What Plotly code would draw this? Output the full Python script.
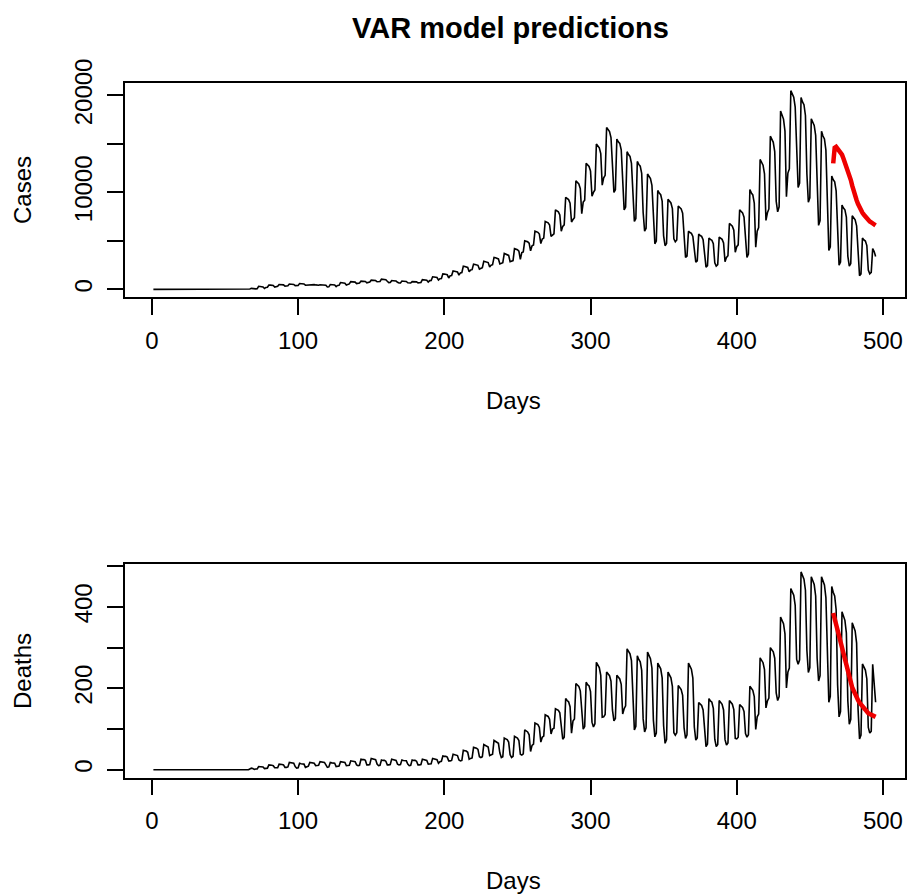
import plotly.graph_objects as go

# Daily reported cases, day 1 .. 495 (one row per week)
cases = [
    0, 0, 0, 0, 0, 0, 0,
    0, 0, 0, 0, 0, 0, 0,
    0, 0, 0, 0, 0, 0, 0,
    0, 0, 0, 0, 0, 0, 0,
    0, 0, 0, 0, 0, 0, 0,
    0, 0, 0, 0, 0, 0, 0,
    0, 0, 0, 0, 0, 0, 0,
    0, 0, 0, 0, 0, 0, 0,
    0, 0, 0, 0, 0, 0, 0,
    0, 0, 0, 40, 100, 60, 20,
    50, 62, 300, 290, 280, 250, 90,
    200, 212, 450, 440, 430, 400, 240,
    300, 310, 500, 490, 485, 460, 330,
    350, 360, 550, 540, 535, 510, 380,
    400, 410, 600, 590, 585, 560, 430,
    450, 452, 500, 498, 496, 490, 458,
    420, 423, 480, 477, 475, 468, 429,
    250, 262, 500, 488, 480, 450, 288,
    400, 415, 700, 685, 676, 640, 445,
    550, 562, 800, 788, 780, 750, 588,
    650, 660, 850, 840, 834, 810, 680,
    750, 760, 950, 940, 934, 910, 780,
    800, 812, 1050, 1038, 1030, 1000, 838,
    700, 710, 900, 890, 884, 860, 730,
    650, 660, 850, 840, 834, 810, 680,
    650, 657, 800, 792, 788, 770, 672,
    700, 715, 1000, 985, 976, 940, 745,
    900, 920, 1300, 1280, 1268, 1220, 960,
    1100, 1125, 1600, 1575, 1560, 1500, 1175,
    1400, 1425, 1900, 1875, 1860, 1800, 1475,
    1700, 1735, 2400, 2365, 2344, 2260, 1805,
    2000, 2030, 2600, 2570, 2552, 2480, 2090,
    2200, 2235, 2900, 2865, 2844, 2760, 2305,
    2500, 2540, 3300, 3260, 3236, 3140, 2620,
    2700, 2750, 3700, 3650, 3620, 3500, 2850,
    2900, 2965, 4200, 4135, 4096, 3940, 3095,
    3800, 3860, 5000, 4940, 4904, 4760, 3980,
    4500, 4575, 6000, 5925, 5880, 5700, 4725,
    5200, 5290, 7000, 6910, 6856, 6640, 5470,
    5600, 5730, 8200, 8070, 7992, 7680, 5990,
    6500, 6650, 9500, 9350, 9260, 8900, 6950,
    7200, 7400, 11200, 11000, 10880, 10400, 7800,
    9000, 9200, 13000, 12800, 12680, 12200, 9600,
    10000, 10250, 15000, 14750, 14600, 14000, 10750,
    11500, 11760, 16700, 16440, 16280, 15660, 12280,
    10000, 10275, 15500, 15225, 15060, 14400, 10825,
    8200, 8500, 14200, 13900, 13720, 13000, 9100,
    7000, 7310, 13200, 12890, 12704, 11960, 7930,
    6000, 6295, 11900, 11605, 11428, 10720, 6885,
    4700, 4975, 10200, 9925, 9760, 9100, 5525,
    4500, 4740, 9300, 9060, 8916, 8340, 5220,
    4900, 5085, 8600, 8415, 8304, 7860, 5455,
    3300, 3435, 6000, 5865, 5784, 5460, 3705,
    2800, 2945, 5700, 5555, 5468, 5120, 3235,
    2300, 2450, 5300, 5150, 5060, 4700, 2750,
    2400, 2550, 5400, 5250, 5160, 4800, 2850,
    3300, 3475, 6800, 6625, 6520, 6100, 3825,
    4400, 4590, 8200, 8010, 7896, 7440, 4970,
    3300, 3650, 10300, 9950, 9740, 8900, 4350,
    6000, 6370, 13400, 13030, 12808, 11920, 7110,
    7900, 8295, 15800, 15405, 15168, 14220, 9085,
    8000, 8520, 18400, 17880, 17568, 16320, 9560,
    12000, 12425, 20500, 20075, 19820, 18800, 13275,
    10500, 10965, 19800, 19335, 19056, 17940, 11895,
    9000, 9430, 17600, 17170, 16912, 15880, 10290,
    6600, 7085, 16300, 15815, 15524, 14360, 8055,
    4000, 4385, 11700, 11315, 11084, 10160, 5155,
    2500, 2810, 8700, 8390, 8204, 7460, 3430,
    2400, 2660, 7600, 7340, 7184, 6560, 3180,
    1400, 1595, 5300, 5105, 4988, 4520, 1985,
    1600, 1750, 4200, 3900, 3400,
]

# Daily reported deaths, day 1 .. 495
deaths = [
    0, 0, 0, 0, 0, 0, 0,
    0, 0, 0, 0, 0, 0, 0,
    0, 0, 0, 0, 0, 0, 0,
    0, 0, 0, 0, 0, 0, 0,
    0, 0, 0, 0, 0, 0, 0,
    0, 0, 0, 0, 0, 0, 0,
    0, 0, 0, 0, 0, 0, 0,
    0, 0, 0, 0, 0, 0, 0,
    0, 0, 0, 0, 0, 0, 0,
    0, 0, 0, 2, 4, 3, 1,
    2, 2, 8, 8, 7, 7, 3,
    4, 4, 12, 12, 11, 10, 5,
    5, 5, 14, 14, 13, 12, 6,
    6, 7, 18, 17, 17, 16, 8,
    4, 5, 16, 15, 15, 14, 6,
    8, 9, 18, 17, 17, 16, 10,
    10, 11, 20, 19, 19, 18, 12,
    6, 7, 18, 17, 17, 16, 8,
    8, 9, 20, 19, 19, 18, 10,
    10, 11, 22, 21, 21, 20, 12,
    10, 11, 26, 25, 25, 23, 12,
    12, 13, 28, 27, 27, 25, 14,
    10, 11, 24, 23, 23, 21, 12,
    12, 13, 26, 25, 25, 23, 14,
    12, 13, 24, 23, 23, 22, 14,
    10, 11, 24, 23, 23, 21, 12,
    12, 13, 26, 25, 25, 23, 14,
    14, 15, 28, 27, 27, 25, 16,
    20, 21, 34, 33, 33, 31, 22,
    22, 23, 38, 37, 37, 35, 24,
    22, 23, 48, 47, 46, 43, 26,
    28, 29, 55, 54, 53, 50, 32,
    30, 32, 62, 60, 59, 56, 35,
    36, 38, 72, 70, 69, 65, 41,
    30, 32, 78, 76, 74, 68, 37,
    30, 33, 82, 79, 78, 72, 38,
    36, 39, 98, 95, 93, 86, 45,
    60, 63, 115, 112, 111, 104, 68,
    80, 83, 135, 132, 131, 124, 88,
    100, 102, 150, 148, 146, 140, 108,
    75, 80, 175, 170, 167, 155, 90,
    120, 125, 212, 207, 205, 194, 134,
    100, 106, 215, 209, 206, 192, 117,
    105, 113, 264, 256, 251, 232, 129,
    130, 136, 240, 235, 231, 218, 147,
    120, 126, 232, 226, 223, 210, 137,
    150, 157, 297, 290, 285, 268, 172,
    98, 107, 280, 271, 265, 244, 125,
    93, 103, 289, 279, 273, 250, 122,
    81, 90, 262, 253, 248, 226, 108,
    65, 74, 240, 231, 226, 205, 91,
    85, 91, 207, 201, 197, 183, 103,
    77, 86, 262, 253, 247, 225, 105,
    73, 78, 165, 160, 158, 147, 87,
    57, 63, 175, 169, 166, 151, 75,
    57, 62, 170, 164, 161, 147, 74,
    61, 66, 170, 165, 161, 148, 77,
    76, 80, 160, 156, 153, 143, 89,
    80, 86, 205, 199, 195, 180, 99,
    130, 137, 275, 268, 263, 246, 152,
    169, 176, 300, 293, 290, 274, 189,
    170, 180, 375, 365, 359, 334, 201,
    240, 250, 445, 435, 429, 404, 271,
    259, 270, 486, 475, 468, 441, 293,
    239, 251, 474, 462, 455, 427, 274,
    218, 231, 474, 461, 454, 423, 256,
    166, 180, 450, 436, 427, 393, 209,
    130, 143, 388, 375, 367, 336, 169,
    112, 124, 361, 349, 341, 311, 149,
    76, 85, 260, 251, 245, 223, 104,
    90, 95, 259, 220, 166,
]

# VAR forecasts for the last 30 days (days 466 .. 495)
pred_start = 466
pred_cases = [
    13000, 14600, 14700, 14500, 14300, 14100, 13900, 13500, 13100, 12700,
    12300, 11900, 11300, 10700, 10100, 9600, 9200, 8800, 8400, 8100,
    7900, 7700, 7500, 7300, 7100, 7000, 6900, 6800, 6700, 6600,
]
pred_deaths = [
    385, 370, 354, 339, 324, 311, 298, 285, 272, 259,
    244, 230, 216, 202, 193, 185, 177, 171, 165, 160,
    155, 150, 145, 142, 139, 137, 135, 133, 131, 130,
]

x_ticks = [0, 100, 200, 300, 400, 500]
x_ticktext = ["0", "100", "200", "300", "400", "500"]
cases_ticks = [0, 5000, 10000, 15000, 20000]
cases_ticktext = ["0", "", "10000", "", "20000"]
deaths_ticks = [0, 100, 200, 300, 400, 500]
deaths_ticktext = ["0", "", "200", "", "400", ""]

days = list(range(1, len(cases) + 1))
pred_days = list(range(pred_start, pred_start + len(pred_cases)))

W, H = 907, 895
FONT = "Liberation Sans, Arial, Helvetica, sans-serif"


def padded(lo, hi):
    # base-R style 4% axis extension
    span = hi - lo
    return [lo - 0.04 * span, hi + 0.04 * span]


x_range = padded(min(days), max(days))
cases_range = padded(0, max(cases))
deaths_range = padded(0, max(deaths))

fig = go.Figure()
fig.add_trace(go.Scatter(x=days, y=cases, mode="lines",
                         line=dict(color="black", width=1.6),
                         xaxis="x", yaxis="y", showlegend=False))
fig.add_trace(go.Scatter(x=pred_days, y=pred_cases, mode="lines",
                         line=dict(color="#ee0000", width=4.5),
                         xaxis="x", yaxis="y", showlegend=False))
fig.add_trace(go.Scatter(x=days, y=deaths, mode="lines",
                         line=dict(color="black", width=1.6),
                         xaxis="x2", yaxis="y2", showlegend=False))
fig.add_trace(go.Scatter(x=pred_days, y=pred_deaths, mode="lines",
                         line=dict(color="#ee0000", width=4.5),
                         xaxis="x2", yaxis="y2", showlegend=False))

x_dom = [124.5 / W, 904.5 / W]
top_dom = [1 - 297.3 / H, 1 - 82.7 / H]
bot_dom = [1 - 777.7 / H, 1 - 564.0 / H]

axis_common = dict(
    showline=True, mirror=True, linecolor="black", linewidth=1.5,
    ticks="outside", ticklen=16, tickwidth=1.5, tickcolor="black",
    showgrid=False, zeroline=False, automargin=False,
    ticklabelstandoff=5,
    tickfont=dict(family=FONT, size=24, color="black"),
)

fig.update_layout(
    width=W, height=H, autosize=False,
    margin=dict(l=0, r=0, t=0, b=0, pad=0),
    paper_bgcolor="white", plot_bgcolor="white",
    xaxis=dict(domain=x_dom, anchor="y", range=x_range,
               tickvals=x_ticks, ticktext=x_ticktext, **axis_common),
    yaxis=dict(domain=top_dom, anchor="x", range=cases_range,
               tickvals=cases_ticks, ticktext=cases_ticktext,
               tickangle=-90, **axis_common),
    xaxis2=dict(domain=x_dom, anchor="y2", range=x_range,
                tickvals=x_ticks, ticktext=x_ticktext, **axis_common),
    yaxis2=dict(domain=bot_dom, anchor="x2", range=deaths_range,
                tickvals=deaths_ticks, ticktext=deaths_ticktext,
                tickangle=-90, **axis_common),
)

label_font = dict(family=FONT, size=24, color="black")
annotations = [
    dict(text="<b>VAR model predictions</b>", x=511 / W, y=1 - 28 / H,
         font=dict(family=FONT, size=29, color="black")),
    dict(text="Days", x=513 / W, y=1 - 400 / H, font=label_font),
    dict(text="Days", x=513 / W, y=1 - 880 / H, font=label_font),
    dict(text="Cases", x=22 / W, y=1 - 190 / H, textangle=-90, font=label_font),
    dict(text="Deaths", x=22 / W, y=1 - 671 / H, textangle=-90, font=label_font),
]
for a in annotations:
    fig.add_annotation(xref="paper", yref="paper", showarrow=False,
                       xanchor="center", yanchor="middle", **a)

fig.write_html("out.html")
